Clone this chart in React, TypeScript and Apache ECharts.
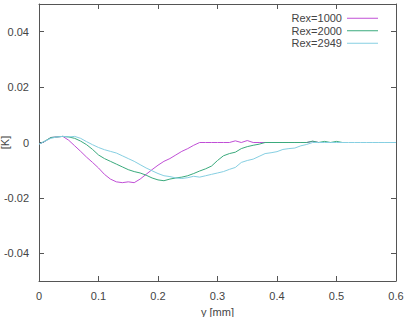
import React, { useEffect, useRef } from "react";
import * as echarts from "echarts";

const xs = [
  0, 0.01, 0.02, 0.03, 0.04, 0.05, 0.06, 0.07, 0.08, 0.09,
  0.1, 0.11, 0.12, 0.13, 0.14, 0.15, 0.16, 0.17, 0.18, 0.19,
  0.2, 0.21, 0.22, 0.23, 0.24, 0.25, 0.26, 0.27, 0.28, 0.29,
  0.3, 0.31, 0.32, 0.33, 0.34, 0.35, 0.36, 0.37, 0.38, 0.39,
  0.4, 0.41, 0.42, 0.43, 0.44, 0.45, 0.46, 0.47, 0.48, 0.49,
  0.5, 0.51, 0.52, 0.53, 0.54, 0.55, 0.56, 0.57, 0.58, 0.59, 0.6,
];

const rex1000 = [
  -0.0006, 0.0004, 0.0018, 0.002, 0.0022, 0.0008, -0.0012, -0.0032, -0.0053, -0.0072,
  -0.0092, -0.0115, -0.0132, -0.0142, -0.0145, -0.0142, -0.0145, -0.0132, -0.0115, -0.0098,
  -0.0082, -0.0068, -0.0058, -0.0045, -0.0032, -0.0022, -0.001, 0, 0, 0,
  0, 0, 0, 0.0006, 0, 0.0007, 0, 0, 0, 0,
  0, 0, 0, 0, 0, 0, 0.0004, 0,
];

const rex2000 = [
  -0.0006, 0.0005, 0.0018, 0.002, 0.0022, 0.002, 0.0015, 0.0005, -0.0008, -0.0025,
  -0.0045, -0.0058, -0.0068, -0.0078, -0.0088, -0.0098, -0.0105, -0.011, -0.0118, -0.0128,
  -0.0135, -0.0138, -0.0132, -0.0128, -0.0125, -0.012, -0.0112, -0.0103, -0.0095, -0.0085,
  -0.0065, -0.0048, -0.004, -0.0035, -0.0022, -0.0015, -0.001, -0.0006, 0, 0,
  0, 0, 0, 0, 0, 0, 0.0005, 0, 0.0004, 0,
  0.0004, 0,
];

const rex2949 = [
  -0.0006, 0.0005, 0.0015, 0.002, 0.0022, 0.002, 0.0022, 0.0015, 0.0003, -0.0008,
  -0.0018, -0.0026, -0.0032, -0.0038, -0.0048, -0.0058, -0.0068, -0.008, -0.0092, -0.0102,
  -0.0112, -0.012, -0.0123, -0.0128, -0.013, -0.0127, -0.0122, -0.0125, -0.012, -0.0115,
  -0.011, -0.0105, -0.0097, -0.009, -0.0072, -0.0065, -0.006, -0.005, -0.004, -0.0037,
  -0.0033, -0.0025, -0.0022, -0.002, -0.0012, -0.0007, 0, 0, 0, 0,
  0, 0, 0, 0, 0, 0, 0, 0, 0, 0, 0,
];

const seriesNames = ["Rex=1000", "Rex=2000", "Rex=2949"];
const seriesColors = ["#c04fd6", "#3aaa7c", "#86cfe2"];
const seriesValues = [rex1000, rex2000, rex2949];

const yTicks = [-0.04, -0.02, 0, 0.02, 0.04];

const fmt = (v: number) => {
  const r = Math.round(v * 1000) / 1000;
  return String(r);
};

export default function App() {
  const ref = useRef<HTMLDivElement>(null);
  useEffect(() => {
    if (!ref.current) return;
    const chart = echarts.init(ref.current, null, { renderer: "svg" });
    const axisColor = "#555";
    const textStyle = { color: "#444", fontFamily: "Liberation Sans", fontSize: 11 };
    const xBase = {
      type: "value",
      min: 0,
      max: 0.6,
      interval: 0.1,
      axisLine: { show: true, onZero: false, lineStyle: { color: axisColor, width: 1 } },
      axisTick: { show: true, inside: true, length: 5, lineStyle: { color: axisColor } },
      splitLine: { show: false },
    };
    const yBase = {
      type: "value",
      min: -0.05,
      max: 0.05,
      axisLine: { show: true, onZero: false, lineStyle: { color: axisColor, width: 1 } },
      axisTick: { show: true, inside: true, length: 5, customValues: yTicks, lineStyle: { color: axisColor } },
      splitLine: { show: false },
    };
    chart.setOption({
      animation: false,
      grid: { left: 39, right: 8, top: 4, bottom: 36, containLabel: false, outerBoundsMode: "none" },
      legend: {
        orient: "vertical",
        right: 21,
        top: 7,
        align: "right",
        icon: "rect",
        itemWidth: 31,
        itemHeight: 1,
        itemGap: 0,
        textStyle: { ...textStyle, color: "#444", lineHeight: 12.5 },
        data: seriesNames,
      },
      xAxis: [
        {
          ...xBase,
          position: "bottom",
          name: "y [mm]",
          nameLocation: "middle",
          nameGap: 25,
          nameMoveOverlap: false,
          nameTextStyle: textStyle,
          axisLabel: { ...textStyle, margin: 9, formatter: (v: number) => fmt(v) },
        },
        { ...xBase, position: "top", axisLabel: { show: false } },
      ],
      yAxis: [
        {
          ...yBase,
          position: "left",
          name: "[K]",
          nameLocation: "middle",
          nameRotate: 90,
          nameGap: 29,
          nameMoveOverlap: false,
          nameTextStyle: textStyle,
          axisLabel: { ...textStyle, margin: 10, customValues: yTicks, formatter: (v: number) => fmt(v) },
        },
        { ...yBase, position: "right", axisLabel: { show: false } },
      ],
      series: seriesNames.map((name, k) => ({
        name,
        type: "line",
        symbol: "none",
        color: seriesColors[k],
        lineStyle: { width: 1, color: seriesColors[k] },
        data: seriesValues[k].map((v, i) => [xs[i], v]),
        z: 2 + k,
      })),
    });
    return () => chart.dispose();
  }, []);
  return <div ref={ref} style={{ width: 404, height: 317, position: "absolute", left: 0, top: 0 }} />;
}
